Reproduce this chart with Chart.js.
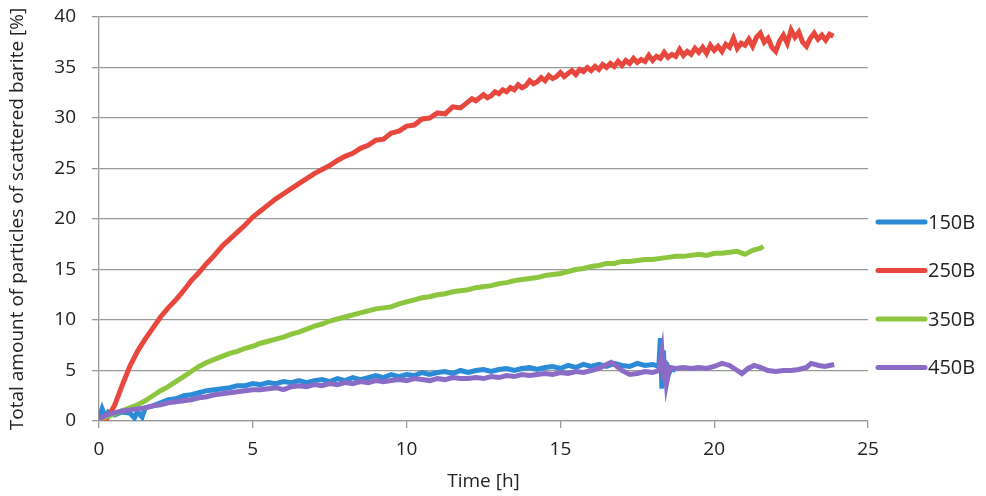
<!DOCTYPE html>
<html><head><meta charset="utf-8">
<script src="https://cdn.jsdelivr.net/npm/chart.js@4"></script>
<style>html,body{margin:0;padding:0;background:#fff;}#wrap{width:986px;height:496px;}</style>
</head><body><div id="wrap"><canvas id="c" width="986" height="496"></canvas></div>
<script>
const seriesNames = ["150B", "250B", "350B", "450B"];

const t150 = [0,0.1,0.2,0.3,0.5,0.75,1,1.15,1.25,1.4,1.5,1.75,2,2.25,2.5,2.75,3,3.25,3.5,3.75,4,4.25,4.5,4.75,5,5.25,5.5,5.75,6,6.25,6.5,6.75,7,7.25,7.5,7.75,8,8.25,8.5,8.75,9,9.25,9.5,9.75,10,10.25,10.5,10.75,11,11.25,11.5,11.75,12,12.25,12.5,12.75,13,13.25,13.5,13.75,14,14.25,14.5,14.75,15,15.25,15.5,15.75,16,16.25,16.5,16.75,17,17.25,17.5,17.75,18,18.2,18.25,18.3,18.35,18.4,18.45,18.5,18.6,18.75];
const v150 = [0.3,1.2,0.4,0.9,0.6,0.9,0.8,0.3,0.9,0.4,1.3,1.5,1.8,2.1,2.2,2.5,2.6,2.8,3.0,3.1,3.2,3.3,3.5,3.5,3.7,3.6,3.8,3.7,3.9,3.8,4.0,3.8,4.0,4.1,3.9,4.2,4.0,4.3,4.1,4.3,4.5,4.3,4.6,4.4,4.6,4.5,4.8,4.6,4.8,4.9,4.7,5.0,4.8,5.0,5.1,4.9,5.1,5.2,5.0,5.2,5.3,5.1,5.3,5.4,5.2,5.5,5.3,5.6,5.4,5.6,5.4,5.7,5.5,5.4,5.7,5.5,5.6,5.4,8.2,3.2,7.0,3.5,5.8,4.5,5.2,5.0];

const t250 = [0,0.25,0.5,0.75,1,1.25,1.5,1.75,2,2.25,2.5,2.75,3,3.25,3.5,3.75,4,4.25,4.5,4.75,5,5.25,5.5,5.75,6,6.25,6.5,6.75,7,7.25,7.5,7.75,8,8.25,8.5,8.75,9,9.25,9.5,9.75,10,10.25,10.5,10.75,11,11.25,11.5,11.75,
12,12.125,12.25,12.375,12.5,12.625,12.75,12.875,13,13.125,13.25,13.375,13.5,13.625,13.75,13.875,14,14.125,14.25,14.375,14.5,14.625,14.75,14.875,15,15.125,15.25,15.375,15.5,15.625,15.75,15.875,16,16.125,16.25,16.375,16.5,16.625,16.75,16.875,17,17.125,17.25,17.375,17.5,17.625,17.75,17.875,18,18.125,18.25,18.375,18.5,18.625,18.75,18.875,19,19.125,19.25,19.375,19.5,19.625,19.75,19.875,20,20.125,20.25,20.375,20.5,20.625,20.75,20.875,21,21.125,21.25,21.375,21.5,21.625,21.75,21.875,22,22.125,22.25,22.375,22.5,22.625,22.75,22.875,23,23.125,23.25,23.375,23.5,23.625,23.75,23.875];
const v250 = [0.3,0.2,1.5,3.5,5.4,6.9,8.1,9.2,10.3,11.2,12.0,12.9,13.9,14.7,15.6,16.4,17.3,18.0,18.7,19.4,20.2,20.8,21.4,22.0,22.5,23.0,23.5,24.0,24.5,24.9,25.3,25.8,26.2,26.5,27.0,27.3,27.8,27.9,28.5,28.7,29.2,29.3,29.9,30.0,30.5,30.4,31.1,31.0,
31.6,31.9,31.7,32.0,32.3,32.0,32.2,32.6,32.4,32.8,32.6,33.0,32.8,33.3,33.0,33.2,33.7,33.4,33.6,34.0,33.7,34.2,33.9,34.1,34.5,34.1,34.4,34.7,34.3,34.8,34.6,35.0,34.7,35.1,34.8,35.3,35.0,35.4,35.1,35.6,35.2,35.7,35.4,35.9,35.5,35.8,35.6,36.2,35.7,36.1,35.9,36.5,36.0,36.3,36.1,36.8,36.2,36.6,36.3,36.9,36.5,37.0,36.4,37.2,36.7,37.1,36.6,37.3,37.0,37.9,36.9,37.4,37.2,37.8,37.1,38.0,38.4,37.5,37.9,37.0,36.6,37.6,38.2,37.4,38.7,38.0,38.5,37.5,37.1,37.9,38.4,37.8,38.2,37.7,38.3,38.1];

const t350 = [0,0.25,0.5,0.75,1,1.25,1.5,1.75,2,2.25,2.5,2.75,3,3.25,3.5,3.75,4,4.25,4.5,4.75,5,5.25,5.5,5.75,6,6.25,6.5,6.75,7,7.25,7.5,7.75,8,8.25,8.5,8.75,9,9.25,9.5,9.75,10,10.25,10.5,10.75,11,11.25,11.5,11.75,12,12.25,12.5,12.75,13,13.25,13.5,13.75,14,14.25,14.5,14.75,15,15.25,15.5,15.75,16,16.25,16.5,16.75,17,17.25,17.5,17.75,18,18.25,18.5,18.75,19,19.25,19.5,19.75,20,20.25,20.5,20.75,21,21.25,21.5,21.6];
const v350 = [0.2,0.4,0.7,1.0,1.3,1.6,2.0,2.5,3.0,3.4,3.9,4.4,4.9,5.4,5.8,6.1,6.4,6.7,6.9,7.2,7.4,7.7,7.9,8.1,8.3,8.6,8.8,9.1,9.4,9.6,9.9,10.1,10.3,10.5,10.7,10.9,11.1,11.2,11.3,11.6,11.8,12.0,12.2,12.3,12.5,12.6,12.8,12.9,13.0,13.2,13.3,13.4,13.6,13.7,13.9,14.0,14.1,14.2,14.4,14.5,14.6,14.8,15.0,15.1,15.3,15.4,15.6,15.6,15.8,15.8,15.9,16.0,16.0,16.1,16.2,16.3,16.3,16.4,16.5,16.4,16.6,16.6,16.7,16.8,16.5,16.9,17.1,17.3];

const t450 = [0,0.25,0.5,0.75,1,1.25,1.5,1.75,2,2.25,2.5,2.75,3,3.25,3.5,3.75,4,4.25,4.5,4.75,5,5.25,5.5,5.75,6,6.25,6.5,6.75,7,7.25,7.5,7.75,8,8.25,8.5,8.75,9,9.25,9.5,9.75,10,10.25,10.5,10.75,11,11.25,11.5,11.75,12,12.25,12.5,12.75,13,13.25,13.5,13.75,14,14.25,14.5,14.75,15,15.25,15.5,15.75,16,16.25,16.5,16.65,16.8,17,17.25,17.5,17.75,18,18.2,18.3,18.35,18.4,18.45,18.55,18.75,19,19.25,19.5,19.75,20,20.25,20.5,20.75,20.9,21.1,21.3,21.5,21.75,22,22.25,22.5,22.75,23,23.15,23.4,23.6,23.9];
const v450 = [0.2,0.6,0.8,1.0,1.1,1.2,1.3,1.5,1.6,1.8,1.9,2.0,2.1,2.3,2.4,2.6,2.7,2.8,2.9,3.0,3.1,3.1,3.2,3.3,3.1,3.4,3.5,3.4,3.6,3.5,3.7,3.6,3.8,3.7,3.9,3.8,4.0,3.9,4.0,4.1,4.0,4.2,4.1,4.0,4.2,4.1,4.3,4.2,4.2,4.3,4.2,4.4,4.3,4.5,4.4,4.6,4.5,4.6,4.7,4.6,4.8,4.7,4.9,4.8,5.0,5.2,5.6,5.8,5.5,5.0,4.6,4.7,4.9,4.8,5.0,6.8,4.0,6.0,3.7,5.3,5.2,5.3,5.2,5.3,5.2,5.4,5.7,5.5,5.0,4.7,5.2,5.5,5.3,5.0,4.9,5.0,5.0,5.1,5.3,5.7,5.5,5.4,5.6];

const xTickStep = 5, yTickStep = 5;
const xMax = 25, yMax = 40;
const xTitle = "Time [h]";
const yTitle = "Total amount of particles of scattered barite [%]";

const colors = ["#2b8bd6", "#e8473d", "#8cc63f", "#8a6cc6"];
const times = [t150, t250, t350, t450];
const values = [v150, v250, v350, v450];

const datasets = seriesNames.map((n, i) => ({
  label: n,
  data: times[i].map((t, k) => ({x: t, y: values[i][k]})),
  borderColor: colors[i],
  backgroundColor: colors[i],
  borderWidth: 5,
  pointRadius: 0,
  tension: 0,
  order: 4 - i
}));

const font = "'Open Sans', 'Liberation Sans', sans-serif";

const legendPlugin = {
  id: 'customLegend',
  afterDraw(chart) {
    const ctx = chart.ctx;
    const ca = chart.chartArea;
    ctx.save();
    ctx.font = "20px " + font;
    ctx.textBaseline = 'middle';
    ctx.textAlign = 'left';
    chart.data.datasets.forEach((ds, i) => {
      const y = 222 + i * 48.5;
      const x0 = ca.right + 10;
      ctx.strokeStyle = ds.borderColor;
      ctx.lineWidth = 5;
      ctx.lineCap = 'round';
      ctx.beginPath();
      ctx.moveTo(x0, y);
      ctx.lineTo(x0 + 47, y);
      ctx.stroke();
      ctx.fillStyle = '#222';
      ctx.fillText(ds.label, x0 + 50, y + 1);
    });
    ctx.restore();
  }
};

new Chart(document.getElementById('c'), {
  type: 'line',
  data: { datasets },
  options: {
    responsive: false,
    animation: false,
    layout: { padding: { left: 0, right: 118, top: 17, bottom: 0 } },
    plugins: { legend: { display: false }, tooltip: { enabled: false } },
    scales: {
      x: {
        type: 'linear', min: 0, max: xMax,
        ticks: { stepSize: xTickStep, font: { size: 19, family: font }, color: '#222', padding: 10, maxRotation: 0 },
        grid: { display: true, drawOnChartArea: false, drawTicks: true, tickLength: 7, color: '#9a9a9a', lineWidth: 1.3 },
        border: { display: true, color: '#9a9a9a', width: 1.3 },
        title: { display: true, text: xTitle, font: { size: 19, family: font }, color: '#222', padding: { top: 2, bottom: 3 } },
        afterFit(s) { s.height = 75; s.paddingLeft = 0; s.paddingRight = 0; }
      },
      y: {
        type: 'linear', min: 0, max: yMax,
        ticks: { stepSize: yTickStep, font: { size: 19, family: font }, color: '#222', padding: 16 },
        grid: { display: true, drawOnChartArea: true, drawTicks: true, tickLength: 7, color: '#9a9a9a', lineWidth: 1.3 },
        border: { display: true, color: '#9a9a9a', width: 1.3 },
        title: { display: true, text: yTitle, font: { size: 19, family: font }, color: '#222', padding: { top: 6, bottom: 4 } },
        afterFit(s) { s.width = 99; s.paddingTop = 0; s.paddingBottom = 0; }
      }
    }
  },
  plugins: [legendPlugin]
});
</script></body></html>
